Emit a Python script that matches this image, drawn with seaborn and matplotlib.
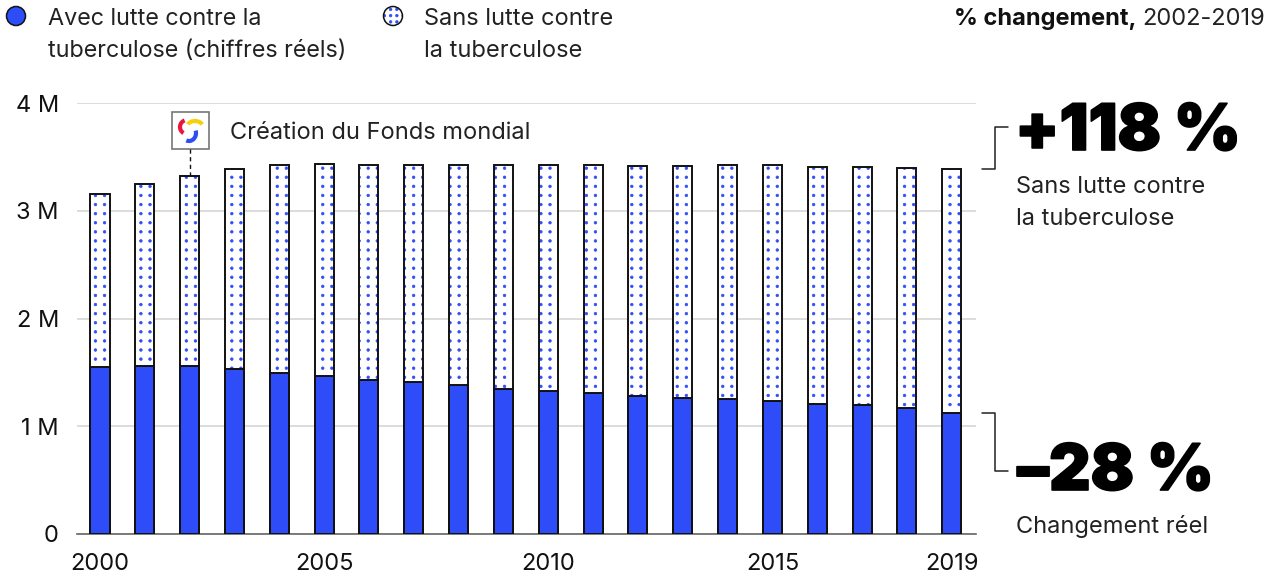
import pandas as pd
import matplotlib
matplotlib.use("Agg")
import matplotlib.hatch as mhatch
import matplotlib.patheffects as pe
import matplotlib.pyplot as plt
import seaborn as sns
from matplotlib.patches import Arc, Circle, Rectangle
from matplotlib.path import Path

# Values (millions)
years = list(range(2000, 2020))
with_tb = [1.55, 1.56, 1.555, 1.53, 1.49, 1.47, 1.43, 1.41, 1.38, 1.35,
           1.33, 1.31, 1.28, 1.26, 1.25, 1.23, 1.21, 1.20, 1.17, 1.12]
without_tb = [3.16, 3.25, 3.325, 3.385, 3.425, 3.43, 3.42, 3.425, 3.425, 3.425,
              3.425, 3.42, 3.415, 3.415, 3.42, 3.425, 3.41, 3.405, 3.40, 3.385]
y_ticks = [0, 1, 2, 3, 4]
y_labels = ["0", "1 M", "2 M", "3 M", "4 M"]
x_labels = [2000, 2005, 2010, 2015, 2019]

BLUE = "#2e4df9"
INK = "#111111"
GREY = "#222222"


# Square grid of dots instead of matplotlib's staggered '.' hatch
class DotGrid(mhatch.HatchPatternBase):
    def __init__(self, hatch, density):
        self.n = round(5.4 * hatch.count("."))
        self.shape = Path.unit_circle()
        self.num_vertices = self.n ** 2 * len(self.shape.vertices)

    def set_vertices_and_codes(self, vertices, codes):
        size = len(self.shape.vertices)
        cursor = 0
        for row in range(self.n):
            for col in range(self.n):
                vertices[cursor:cursor + size] = self.shape.vertices * 0.013 + [
                    (col + 0.5) / self.n, (row + 0.5) / self.n]
                codes[cursor:cursor + size] = self.shape.codes
                cursor += size


mhatch._hatch_types[mhatch._hatch_types.index(mhatch.SmallFilledCircles)] = DotGrid

sns.set_theme(style="white")
plt.rcParams["font.family"] = ["Inter", "DejaVu Sans"]
plt.rcParams["hatch.linewidth"] = 0.5

df = pd.DataFrame({"year": years, "with_tb": with_tb, "without_tb": without_tb})

fig = plt.figure(figsize=(12.77, 5.76), dpi=100)
ax = fig.add_axes([77 / 1277, 1 - 534 / 576, (976 - 77) / 1277, (534 - 103) / 576])

# Dotted counterfactual bars, outline on top, real figures in front
sns.barplot(data=df, x="year", y="without_tb", ax=ax, color="white", saturation=1,
            width=0.424, edgecolor=BLUE, linewidth=0, hatch="..", zorder=2)
sns.barplot(data=df, x="year", y="without_tb", ax=ax, color=INK, fill=False,
            width=0.424, linewidth=1.4, zorder=3)
sns.barplot(data=df, x="year", y="with_tb", ax=ax, color=BLUE, saturation=1,
            width=0.424, edgecolor=INK, linewidth=1.4, zorder=4)

ax.set_xlim(-0.513, 19.54)
ax.set_ylim(0, 4)
ax.set_xlabel("")
ax.set_ylabel("")
ax.set_xticks([years.index(y) for y in x_labels], [str(y) for y in x_labels])
ax.set_yticks(y_ticks, y_labels)
ax.tick_params(axis="both", length=0, labelsize=17, labelcolor=INK)
ax.tick_params(axis="x", pad=14)
ax.tick_params(axis="y", pad=13)
ax.yaxis.grid(True, color="#d9d9d9", linewidth=1.3, zorder=0)
ax.set_axisbelow(True)
sns.despine(ax=ax, left=True, top=True, right=True)
ax.spines["bottom"].set_color("#666666")
ax.spines["bottom"].set_linewidth(1.2)

# Overlay in pixel coordinates for legend and annotations
ov = fig.add_axes([0, 0, 1, 1], facecolor="none")
ov.set_xlim(0, 1277)
ov.set_ylim(576, 0)
ov.axis("off")

# legend
ov.add_patch(Circle((16, 16), 9.5, facecolor=BLUE, edgecolor=INK, linewidth=1.1))
ov.add_patch(Circle((393, 16), 9.5, facecolor="white", edgecolor=BLUE, linewidth=0, hatch="..."))
ov.add_patch(Circle((393, 16), 9.5, fill=False, edgecolor=INK, linewidth=1.1))
ov.text(48, 35, "Avec lutte contre la\ntuberculose (chiffres réels)", fontsize=16.8,
        color=GREY, va="center", linespacing=1.56)
ov.text(424, 35, "Sans lutte contre\nla tuberculose", fontsize=17, color=GREY,
        va="center", linespacing=1.54)
ov.text(1136, 19, "% changement,", fontsize=17, color=INK, weight="bold", ha="right", va="center")
ov.text(1265, 19, "2002-2019", fontsize=17, color=GREY, ha="right", va="center")

# Global Fund marker
ov.add_patch(Rectangle((171.5, 112), 37, 37, facecolor="white", edgecolor="#777777", linewidth=1.2))
ov.add_patch(Arc((187, 127), 14, 14, theta1=120, theta2=250, color="#e8173f", linewidth=3))
ov.add_patch(Arc((195, 127), 16, 12, theta1=200, theta2=340, color="#f5d10d", linewidth=3))
ov.add_patch(Arc((189, 133), 14, 16, theta1=-20, theta2=110, color=BLUE, linewidth=3))
ov.plot([189.5, 189.5], [149, 175], color=INK, linewidth=1, linestyle=(0, (3, 2.5)))
ov.text(230, 133, "Création du Fonds mondial", fontsize=17, color=GREY, va="center")

# right hand callouts
ov.plot([982, 995, 995, 1008], [169, 169, 127, 127], color=GREY, linewidth=1.1)
ov.plot([982, 995, 995, 1008], [413, 413, 471, 471], color=GREY, linewidth=1.1)
heavy = [pe.withStroke(linewidth=1.2, foreground="black")]
ov.text(1015, 133, "+118 %", fontsize=46.2, color="black", weight=900, va="center",
        path_effects=heavy)
ov.text(1017, 473, "–28 %", fontsize=46.2, color="black", weight=900, va="center",
        path_effects=heavy)
ov.text(1016, 203, "Sans lutte contre\nla tuberculose", fontsize=17, color=GREY,
        va="center", linespacing=1.54)
ov.text(1016, 527, "Changement réel", fontsize=17, color=GREY, va="center")

fig.savefig("out.png", dpi=100)
